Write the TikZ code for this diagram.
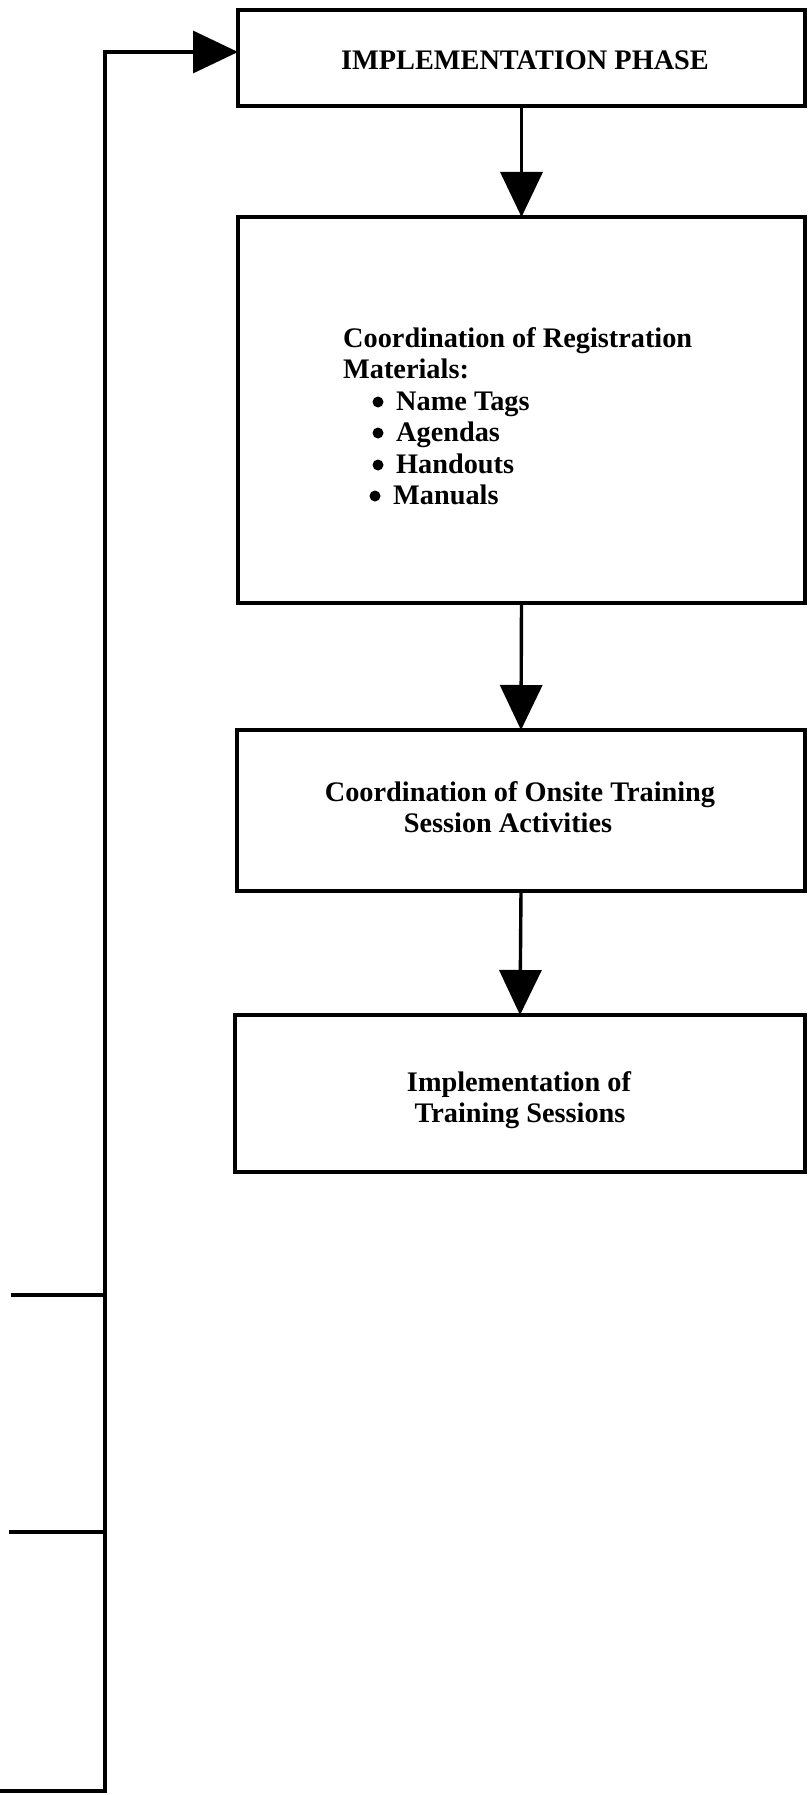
\documentclass[tikz,border=0pt]{standalone}
\usepackage{fontspec}
\setmainfont{Liberation Serif}
\usetikzlibrary{arrows.meta}
\begin{document}
\begin{tikzpicture}[x=1pt,y=-1pt,
  box/.style={draw, line width=3.4pt, outer sep=0pt, inner sep=0pt},
  txt/.style={font=\bfseries\fontsize{28.3}{31.5}\selectfont, inner sep=0pt, anchor=base},
  txtl/.style={txt, anchor=base west},
  listdot/.style={circle, fill, inner sep=0pt, minimum size=11pt},
  wire/.style={line width=3.4pt},
  flow/.style={wire, -{Triangle[length=45pt,width=42pt]}}]
\useasboundingbox (0,0) rectangle (807,1795);

% process boxes
\node[box, minimum width=567pt, minimum height=96pt]  (b1) at (521.5,58)   {};
\node[box, minimum width=567pt, minimum height=386pt] (b2) at (521.5,410)  {};
\node[box, minimum width=568pt, minimum height=161pt] (b3) at (521,810.5)  {};
\node[box, minimum width=570pt, minimum height=157pt] (b4) at (520,1093.5) {};

% box texts
\node[txt]  (t1)  at (525,70)   {IMPLEMENTATION PHASE};
\node[txtl] (t2a) at (343,347)  {Coordination of Registration};
\node[txtl] (t2b) at (343,378)  {Materials:};
\node[txtl] (t2c) at (396,410)  {Name Tags};
\node[txtl] (t2d) at (396,441)  {Agendas};
\node[txtl] (t2e) at (396,473)  {Handouts};
\node[txtl] (t2f) at (393,504)  {Manuals};
\node[listdot] (d1) at (378,402) {};
\node[listdot] (d2) at (378,433) {};
\node[listdot] (d3) at (378,465) {};
\node[listdot] (d4) at (375,496) {};
\node[txt]  (t3a) at (520,801)  {Coordination of Onsite Training};
\node[txt]  (t3b) at (508,832)  {Session Activities};
\node[txt]  (t4a) at (519,1091) {Implementation of};
\node[txt]  (t4b) at (520,1122) {Training Sessions};

% downward flow
\draw[flow] (b1.south) -- (b2.north);
\draw[flow] (b2.south) -- (b3.north);
\draw[flow] (b3.south) -- (b4.north);

% feedback line on the left
\coordinate (s0) at (0,1791);
\coordinate (fb) at (105,1791);
\coordinate (ft) at (105,52);
\coordinate (s1) at (11,1295);
\coordinate (s2) at (9,1532);
\draw[flow] (s0) -- (fb) -- (ft) -- (ft -| b1.west);
\draw[wire] (s1) -- (s1 -| fb);
\draw[wire] (s2) -- (s2 -| fb);
\end{tikzpicture}
\end{document}
